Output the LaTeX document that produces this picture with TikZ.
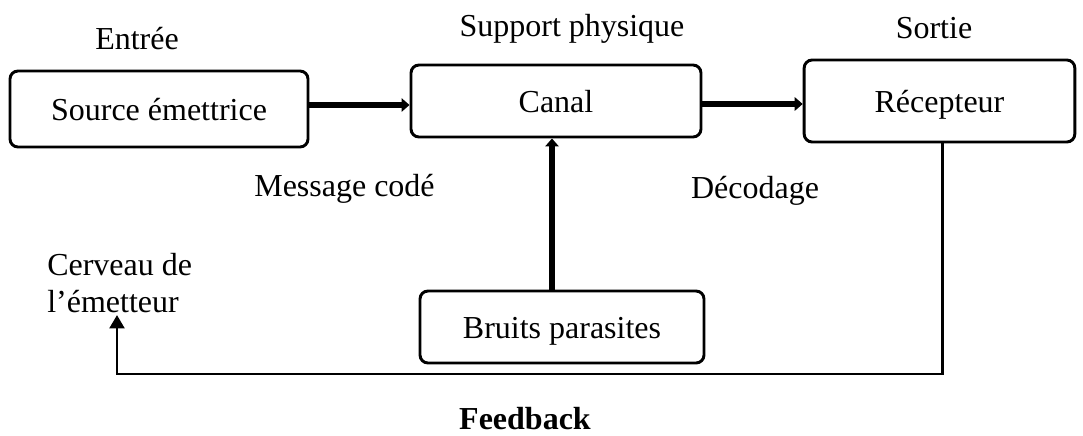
\documentclass[tikz,border=0pt]{standalone}
\usepackage{fontspec}
\setmainfont{Liberation Serif}
\usetikzlibrary{arrows.meta,calc}
\begin{document}
\begin{tikzpicture}[x=0.75pt,y=-0.75pt,
  every node/.style={font=\fontsize{24}{28}\selectfont, inner sep=0pt},
  blk/.style={draw, line width=2.2pt, rounded corners=6pt, text height=17pt, text depth=0pt},
  lbl/.style={anchor=base},
  thickarrow/.style={line width=3.8pt, -{Triangle[length=6pt,width=10pt]}},
  fbline/.style={line width=2.2pt, -{Triangle[length=10pt,width=11pt]}}]
\useasboundingbox (0,0) rectangle (1083,436);

% boxes
\node[blk, minimum width=223.5pt, minimum height=57pt] (src) at (159,109) {Source émettrice};
\node[blk, minimum width=217.5pt, minimum height=54pt] (canal) at (556,101) {Canal};
\node[blk, minimum width=203pt, minimum height=61.5pt] (recv) at (939.5,101) {Récepteur};
\node[blk, minimum width=213pt, minimum height=54pt] (noise) at (562,327) {Bruits parasites};

% labels
\node[lbl] (entree) at (137,49) {Entrée};
\node[lbl] (support) at (572,36) {Support physique};
\node[lbl] (sortie) at (934,38) {Sortie};
\node[lbl] (msg) at (344.5,196) {Message codé};
\node[lbl] (decod) at (755,198) {Décodage};
\node[anchor=base west] (cervA) at (47,275) {Cerveau de};
\node[anchor=base west] (cervB) at (47,312) {l’émetteur};
\node[lbl, font=\fontsize{24}{28}\selectfont\bfseries] (fb) at (525,429) {Feedback};

% connectors
\draw[thickarrow] ([yshift=3pt]src.east) -- ([yshift=-3pt]canal.west);
\draw[thickarrow] ([yshift=-2.25pt]canal.east) -- ([yshift=-2.25pt]recv.west);
\draw[thickarrow] ([xshift=-7.5pt]noise.north) -- ([xshift=-3pt]canal.south);

\coordinate (fbcorner) at (117,374);
\coordinate (fbtip) at (117,315);
\draw[fbline] ([xshift=1.9pt]recv.south) |- (fbcorner) -- (fbtip);
\end{tikzpicture}
\end{document}
